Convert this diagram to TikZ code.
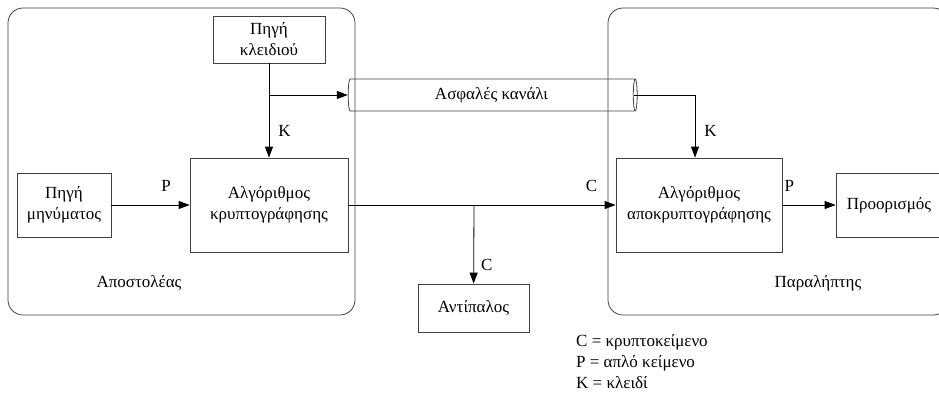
\documentclass[tikz,border=0pt]{standalone}
\usepackage{fontspec}
\setmainfont{Liberation Serif}
\usetikzlibrary{arrows.meta, positioning, shapes.geometric}

\begin{document}
\begin{tikzpicture}[x=1pt, y=-1pt,
   font=\fontsize{17}{21}\selectfont,
   box/.style={draw=black!75, line width=0.8pt, align=center, inner sep=0pt},
   party/.style={draw=black!75, line width=0.8pt, rounded corners=15pt, inner sep=0pt},
   arr/.style={-{Triangle[length=11pt, width=8pt]}, line width=0.8pt},
   lbl/.style={inner sep=0pt}]
            \useasboundingbox (0,0) rectangle (939,394);
            % Sender and receiver areas
            \node[party, minimum width=347pt, minimum height=307pt] (sender) at (181.5,161.5) {};
            \node[party, minimum width=340pt, minimum height=307pt] (receiver) at (778,161.5) {};
            \node (senderlbl) at (139,283) {Αποστολέας};
            \node (receiverlbl) at (818,283) {Παραλήπτης};
            % Boxes
            \node[box, minimum width=112pt, minimum height=47pt] (keysrc) at (269,39.5) {Πηγή\\κλειδιού};
            \node[box, minimum width=94pt, minimum height=64pt] (msgsrc) at (64,205) {Πηγή\\μηνύματος};
            \node[box, minimum width=158pt, minimum height=94pt] (enc) at (269,205) {Αλγόριθμος\\κρυπτογράφησης};
            \node[box, minimum width=166pt, minimum height=94pt] (dec) at (699,205) {Αλγόριθμος\\αποκρυπτογράφησης};
            \node[box, minimum width=106pt, minimum height=64pt] (dest) at (889,205) {Προορισμός};
            \node[box, minimum width=111pt, minimum height=48pt] (adv) at (473.5,308) {Αντίπαλος};
            % Secure channel
            \node[cylinder, draw=black!75, line width=0.8pt, aspect=0.25, inner sep=0pt,
               minimum width=32pt, minimum height=289pt] (cyl) at (491.5,95) {Ασφαλές κανάλι};
            % Key path
            \draw[arr] (keysrc) -- (enc)
               node[lbl, pos=0.72, right=9pt] (klbl) {K};
            \coordinate (kjoin) at (269,95);
            \draw[arr] (kjoin) -- (cyl.west);
            \draw[arr] ([xshift=-4pt]cyl.east) -| ([xshift=-4pt]dec.north)
               node[lbl, pos=0.786, right=9pt] (klbl2) {K};
            % Message path
            \draw[arr] (msgsrc) -- (enc)
               node[lbl, pos=0.7, above=13pt] (plbl) {P};
            \draw[arr] (enc) -- (dec)
               node[lbl, pos=0.91, above=13pt] (clbl) {C};
            \coordinate (cjoin) at (474,205);
            \draw[arr] (cjoin) -- (adv)
               node[lbl, pos=0.76, right=7pt] (clbl2) {C};
            \draw[arr] (dec) -- (dest)
               node[lbl, pos=0.13, above=13pt] (plbl2) {P};
            % Legend
            \node[lbl, anchor=west, align=left] (legend) at (576,362)
               {C = κρυπτοκείμενο\\P = απλό κείμενο\\K = κλειδί};
         \end{tikzpicture}
\end{document}
